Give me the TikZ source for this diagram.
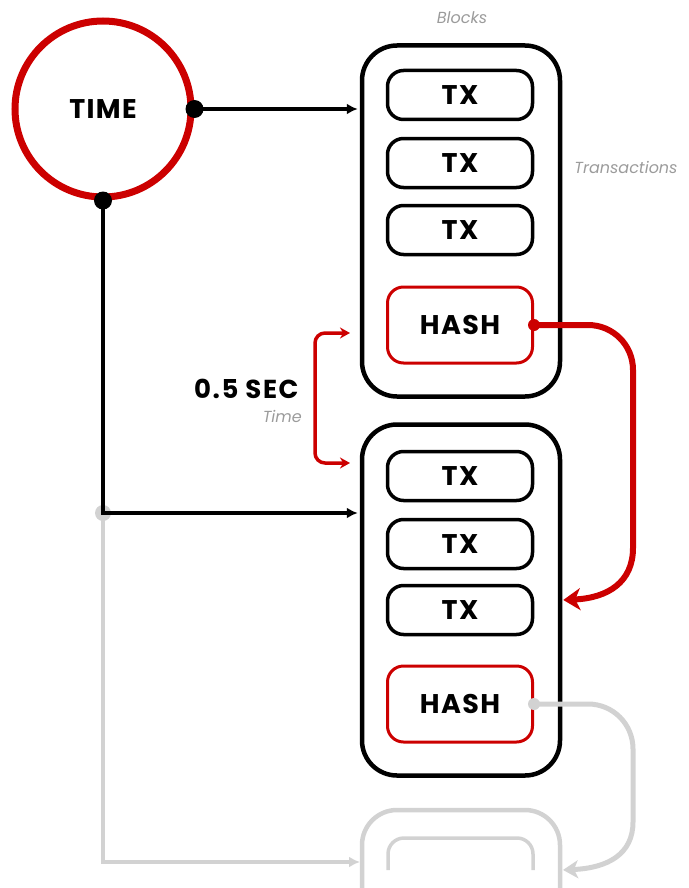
\documentclass[tikz,border=0pt]{standalone}
\usepackage{fontspec}
\setmainfont{Poppins}
\usetikzlibrary{arrows.meta,calc}
\definecolor{chainred}{RGB}{204,0,0}
\definecolor{fadegray}{RGB}{210,210,210}
\definecolor{notegray}{RGB}{155,155,155}
\tikzset{block/.style={draw,line width=4.5pt,rounded corners=35pt,minimum width=198pt,
  minimum height=351pt,inner sep=0pt},
 txbox/.style={draw,line width=3.5pt,rounded corners=16pt,minimum width=145pt,
  minimum height=49pt,inner sep=0pt},
 hashbox/.style={txbox,draw=chainred,line width=3pt,minimum height=76pt},
 link/.style={-{Latex[length=11pt,width=11pt]},line width=3.5pt,shorten >=2pt},
 redlink/.style={-{Stealth[length=17pt,width=22pt,inset=5pt]},line width=6pt,chainred,
  shorten >=1pt},
 ghostlink/.style={-{Stealth[length=15pt,width=18pt,inset=4pt]},line width=5pt,fadegray,
  shorten >=1pt},
 note/.style={font=\fontsize{16}{16}\selectfont\itshape,text=notegray,inner sep=0pt},
 every node/.style={font=\fontsize{27}{27}\selectfont\bfseries\addfontfeature{LetterSpace=5}}}
\begin{document}
\begin{tikzpicture}[x=1pt,y=-1pt]
\useasboundingbox (0,0) rectangle (688,888);
% clock
\node[circle,draw=chainred,line width=7pt,minimum size=176pt,inner sep=0pt] (time) at (103,109) {TIME};
\coordinate (split) at (103,513);
\coordinate (corner) at (103,862);
\coordinate (b3w) at (362,862);
\coordinate (b3e) at (562,870);
% faded next block
\draw[fadegray,line width=4.5pt,rounded corners=35pt] (362,888) |- (461,810) -| (560,888);
\draw[fadegray,line width=3.5pt,rounded corners=16pt] (388,870) |- (461,838) -| (533,870);
\draw[link,fadegray] (split) -- (corner) -- (b3w);
\fill[fadegray] (split) circle (8pt);
% blocks
\node[block] (b1) at (461,221) {};
\node[block] (b2) at (461,600) {};
\node[txbox] (t11) at (460,95) {TX};
\node[txbox] (t12) at (460,163) {TX};
\node[txbox] (t13) at (460,230) {TX};
\node[hashbox] (h1) at (460,325) {HASH};
\node[txbox] (t21) at (460,476) {TX};
\node[txbox] (t22) at (460,544) {TX};
\node[txbox] (t23) at (460,610) {TX};
\node[hashbox] (h2) at (460,704) {HASH};
% clock ticks
\draw[link] (time.east) -- (time.east -| b1.west);
\draw[link] (time.south) -- (split) -- (split -| b2.west);
\fill (time.east) circle (9pt);
\fill (time.south) circle (9pt);
% hash chain
\draw[redlink] (h1.east) -- (588,325) .. controls (613,325) and (633,345) .. (633,370)
 -- (633,548) .. controls (633,582) and (608,598) .. (b2.east);
\fill[chainred] (h1.east) circle (6pt);
\draw[ghostlink] (h2.east) -- (588,704) .. controls (613,704) and (633,724) .. (633,749)
 -- (633,822) .. controls (633,854) and (608,868) .. (b3e);
\fill[fadegray] (h2.east) circle (6pt);
% interval
\coordinate (gt) at (350,333);
\coordinate (gb) at (350,463);
\draw[{Stealth[length=10pt,width=11pt]}-{Stealth[length=10pt,width=11pt]},chainred,line width=3.5pt,
 rounded corners=10pt] (gt) -- ++(-35,0) |- (gb);
\node[anchor=east,font=\fontsize{26}{26}\selectfont\bfseries\addfontfeature{LetterSpace=6}] (gap) at (302,389) {0.5 SEC};
\node[note,anchor=east] (gaplbl) at (302,416) {Time};
\node[note] (blocklbl) at (462,18) {Blocks};
\node[note] (txlbl) at (626,167) {Transactions};
\end{tikzpicture}
\end{document}
